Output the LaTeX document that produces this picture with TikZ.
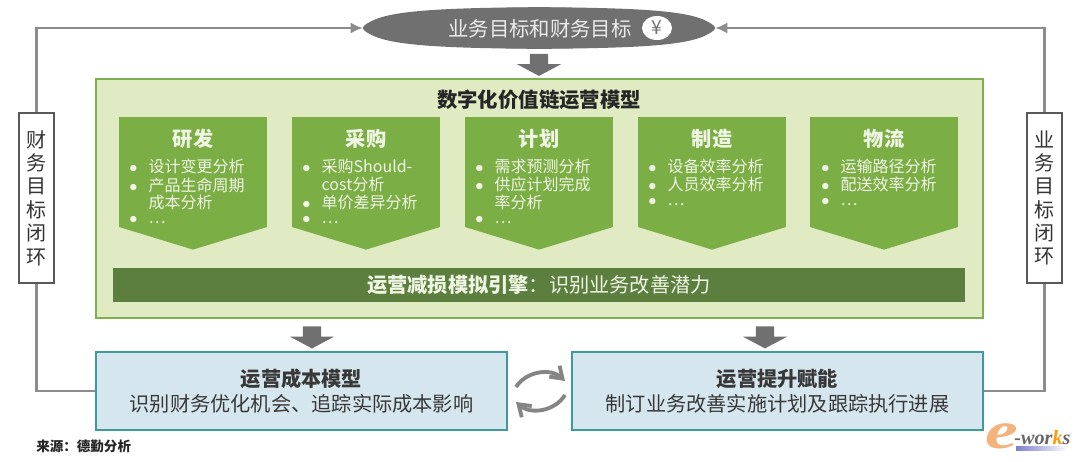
\documentclass[tikz,border=0pt]{standalone}
\usepackage{fontspec}
\usepackage{tikz}
\usetikzlibrary{shapes.geometric, shapes.arrows, shapes.symbols, arrows.meta}
\setmainfont{Noto Sans CJK SC}
\newfontfamily\logofont{Liberation Serif}
\definecolor{panelfill}{HTML}{E0EAC3}
\definecolor{panelline}{HTML}{7FB04F}
\definecolor{leaf}{HTML}{7CAE46}
\definecolor{barfill}{HTML}{5C7F3F}
\definecolor{boxfill}{HTML}{D6E6EE}
\definecolor{boxline}{HTML}{3F9AA0}
\definecolor{linegray}{HTML}{8C8C8C}
\definecolor{darkgray}{HTML}{707070}
\definecolor{leaftext}{HTML}{F0F6E4}
\definecolor{logoorange}{HTML}{F5B27A}
\newcommand{\fs}[1]{\fontsize{#1}{#1}\selectfont}
\newcommand{\bul}{$\bullet$}
\begin{document}
\begin{tikzpicture}[x=0.02cm, y=-0.02cm]
        \tikzset{pentagon/.style={shape=signal, signal to=south, signal from=nowhere, signal pointer angle=146, fill=leaf, inner sep=0pt, minimum width=2.96cm, minimum height=2.2cm}}
        \tikzset{headtext/.style={text=leaftext, font=\fs{11.5}\bfseries}}
        \tikzset{listtext/.style={text=leaftext, anchor=north west, inner sep=0pt, font=\fontsize{9.1}{8.5}\selectfont}}
        \tikzset{blockarrow/.style={shape=single arrow, shape border rotate=270, fill=darkgray, inner sep=0pt, single arrow tip angle=124, single arrow head extend=0.01cm, minimum width=0.88cm, minimum height=0.44cm}}
        \tikzset{modelbox/.style={draw=boxline, line width=1.2pt, fill=boxfill, text=black!78, align=center, inner sep=0pt, minimum width=8.22cm, minimum height=1.56cm, font=\fontsize{11.5}{13}\selectfont}}
        \tikzset{sidebox/.style={draw=black!65, line width=0.8pt, fill=white, text=black!80, align=center, text width=0.5cm, inner sep=0pt, minimum width=0.7cm, minimum height=3.4cm, font=\fontsize{11.4}{13.3}\selectfont}}
        \tikzset{link/.style={draw=linegray, line width=1.2pt}}
        \tikzset{cycle/.style={draw=darkgray!85, line width=2.2pt, -{Straight Barb[length=2.2mm, width=3mm]}}}
        \useasboundingbox (0,0) rectangle (1080,461);
        % top goal
        \node [shape=ellipse, fill=darkgray, inner sep=0pt, minimum width=7.04cm, minimum height=0.82cm] (goal) at (539,28){};
        \fill [darkgray] (goal.west) .. controls (375,12) and (420,8) .. (goal.north) .. controls (660,8) and (703,12) .. (goal.east) .. controls (703,44) and (660,48) .. (goal.south) .. controls (420,48) and (375,44) .. (goal.west);
        \node [text=white!92!black, font=\fs{11.6}] (goaltext) at (540,29){业务目标和财务目标};
        \node [shape=ellipse, fill=white, text=darkgray, inner sep=0pt, minimum width=0.6cm, minimum height=0.48cm, font=\fs{11}] (yen) at (657,28){¥};
        \node [blockarrow] (arrowtop) at (539,62.5){};
        % value chain panel
        \node [draw=panelline, line width=1.2pt, fill=panelfill, inner sep=0pt, minimum width=17.74cm, minimum height=4.78cm] (panel) at (539.5,198.5){};
        \node [text=black!85, font=\fs{11.6}\bfseries] (paneltitle) at (539,100){数字化价值链运营模型};
        \node [pentagon] (rd) at (193,172){};
        \node [pentagon] (buy) at (366,172){};
        \node [pentagon] (plan) at (539,172){};
        \node [pentagon] (make) at (712,172){};
        \node [pentagon] (ship) at (884,172){};
        \node [headtext] (rdhead) at (193,139){研发};
        \node [headtext] (buyhead) at (366,139){采购};
        \node [headtext] (planhead) at (539,139){计划};
        \node [headtext] (makehead) at (712,139){制造};
        \node [headtext] (shiphead) at (884,139){物流};
        \node [listtext] (rdlist) at (129,159){\begin{tabular}{@{}p{11pt}@{}l@{}}
            \bul & 设计变更分析\\ \bul & 产品生命周期\\ & 成本分析\\ \bul & …\end{tabular}};
        \node [listtext] (buylist) at (302,159){\begin{tabular}{@{}p{11pt}@{}l@{}}
            \bul & 采购Should-\\ & cost分析\\ \bul & 单价差异分析\\ \bul & …\end{tabular}};
        \node [listtext] (planlist) at (475,159){\begin{tabular}{@{}p{11pt}@{}l@{}}
            \bul & 需求预测分析\\ \bul & 供应计划完成\\ & 率分析\\ \bul & …\end{tabular}};
        \node [listtext] (makelist) at (648,159){\begin{tabular}{@{}p{11pt}@{}l@{}}
            \bul & 设备效率分析\\ \bul & 人员效率分析\\ \bul & …\end{tabular}};
        \node [listtext] (shiplist) at (821,159){\begin{tabular}{@{}p{11pt}@{}l@{}}
            \bul & 运输路径分析\\ \bul & 配送效率分析\\ \bul & …\end{tabular}};
        \node [fill=barfill, text=leaftext, inner sep=0pt, minimum width=17.04cm, minimum height=0.68cm, font=\fs{11.5}] (engine) at (539,285){\textbf{运营减损模拟引擎}：识别业务改善潜力};
        % bottom boxes
        \node [blockarrow] (arrowcost) at (312,335){};
        \node [blockarrow] (arrowplan) at (765,335){};
        \node [modelbox] (costbox) at (301.5,391){\textbf{运营成本模型}\\[1pt] 识别财务优化机会、追踪实际成本影响};
        \node [modelbox] (actbox) at (777.5,391){\textbf{运营提升赋能}\\[1pt] 制订业务改善实施计划及跟踪执行进展};
        % side loops
        \node [sidebox] (finloop) at (36.5,198){财\\务\\目\\标\\闭\\环};
        \node [sidebox] (bizloop) at (1044.5,198){业\\务\\目\\标\\闭\\环};
        \draw [link, -{Latex[length=2.4mm, width=2.2mm]}] (finloop.north) |- (goal.west);
        \draw [link, -{Latex[length=2.4mm, width=2.2mm]}] (bizloop.north) |- (goal.east);
        \draw [link] (finloop.south) |- (costbox.west);
        \draw [link] (bizloop.south) |- (actbox.east);
        % cycle between the boxes
        \coordinate (c1) at (516,387);
        \coordinate (c2) at (565,381);
        \coordinate (c3) at (565,395);
        \coordinate (c4) at (516,402);
        \draw [cycle] (c1) to[bend left=50] (c2);
        \draw [cycle] (c3) to[bend left=50] (c4);
        % source and logo
        \node [anchor=west, inner sep=0pt, text=black!85, font=\fs{7.7}\bfseries] (source) at (36,446){来源：德勤分析};
        \node [anchor=west, inner sep=0pt, xscale=1.4, transform shape, text=logoorange, font=\logofont\fs{30}\itshape\bfseries] (logoe) at (985,436){e};
        \node [anchor=west, inner sep=0pt, text=black!60, font=\logofont\fs{11.5}\itshape\bfseries] (logotext) at (1014,438){-wor\textcolor{orange!80!yellow}{k}s};
        \fill [left color=blue!45!gray!70, right color=white] (1016,446) rectangle (1068,450);
    \end{tikzpicture}
\end{document}
